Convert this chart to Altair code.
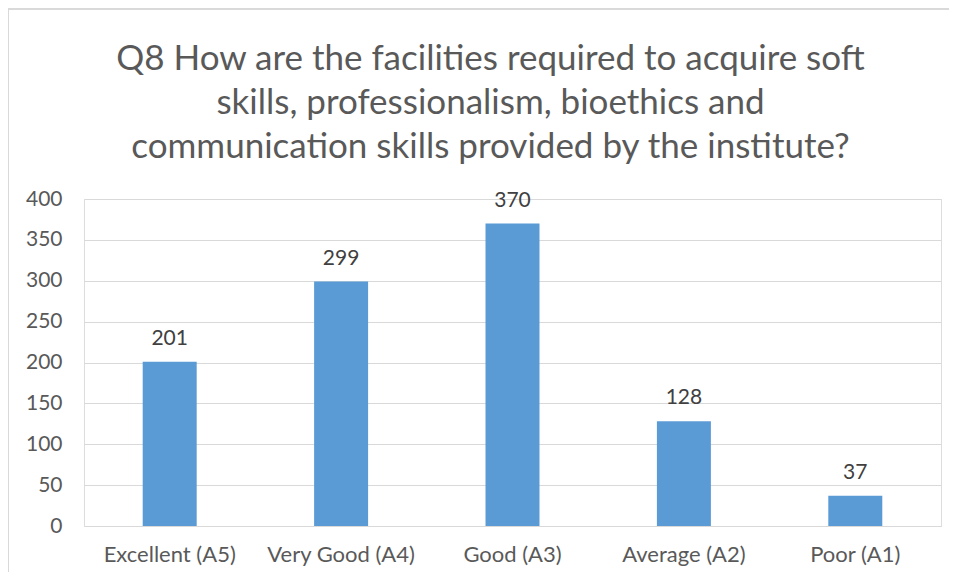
import altair as alt
import pandas as pd

categories = ["Excellent (A5)", "Very Good (A4)", "Good (A3)", "Average (A2)", "Poor (A1)"]
counts = [201, 299, 370, 128, 37]
title_lines = [
    "Q8 How are the facilities required to acquire soft",
    "skills, professionalism, bioethics and",
    "communication skills provided by the institute?",
]

df = pd.DataFrame({"category": categories, "count": counts})

FONT = "Lato"
W, H = 857, 327

x = alt.X("category:N", sort=categories, title=None,
          scale=alt.Scale(paddingInner=0.685, paddingOuter=0.3425),
          axis=alt.Axis(labelAngle=0, labelFontSize=22, labelColor="#595959", labelFont=FONT,
                        labelPadding=18, ticks=False, domainColor="#d9d9d9", domainWidth=1.2,
                        grid=False))
y = alt.Y("count:Q", title=None,
          scale=alt.Scale(domain=[0, 400], nice=False),
          axis=alt.Axis(values=[0, 50, 100, 150, 200, 250, 300, 350, 400], labelFontSize=21,
                        labelColor="#595959", labelFont=FONT, labelPadding=22, ticks=False,
                        domain=False, gridColor="#d9d9d9", gridWidth=1.2))

bars = alt.Chart(df).mark_bar(color="#5B9BD5").encode(x=x, y=y)
labels = alt.Chart(df).mark_text(baseline="bottom", dy=-13, fontSize=21, font=FONT,
                                 color="#404040").encode(x=x, y=y, text="count:Q")
frame = alt.Chart(df).mark_rect(fillOpacity=0, fill="white", stroke="#d9d9d9", strokeWidth=1.5).encode(
    x=alt.value(-76), x2=alt.value(W + 90), y=alt.value(-190), y2=alt.value(H + 80))

chart = alt.layer(frame, bars, labels).properties(
    width=W, height=H,
    title=alt.TitleParams(text=title_lines, fontSize=35, font=FONT, color="#595959",
                          fontWeight="normal", lineHeight=44, offset=-192, anchor="middle",
                          baseline="bottom", frame="group", dx=-22),
    autosize=alt.AutoSizeParams(type="none"),
    padding={"left": 76, "top": 191, "right": 8, "bottom": 46},
).configure_view(stroke=None).configure(background="white")

chart.save("out.html", embed_options={"renderer": "svg", "actions": False})
